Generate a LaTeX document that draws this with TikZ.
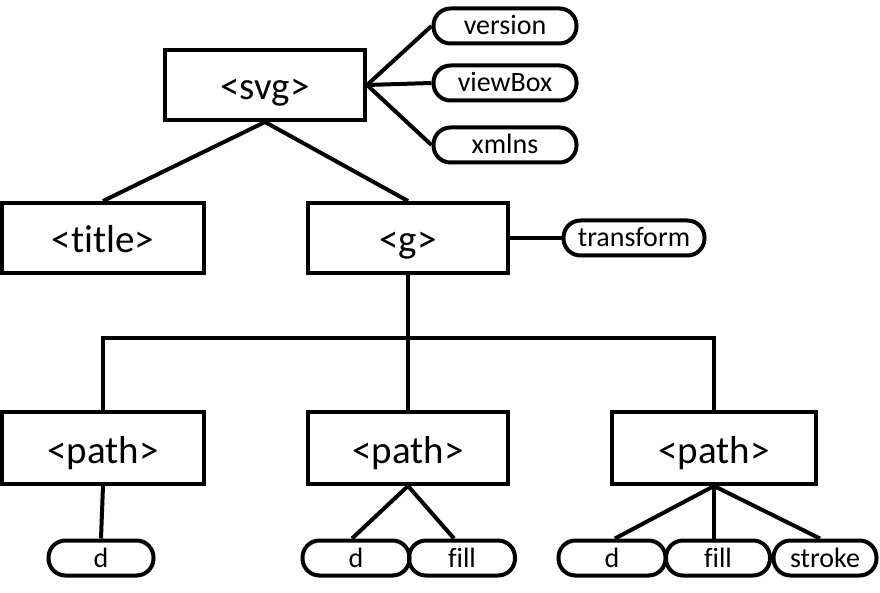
\documentclass[tikz,border=0pt]{standalone}
\usepackage{fontspec}
\setmainfont{Carlito}[Ligatures=NoCommon]
\begin{document}
\begin{tikzpicture}[x=1pt,y=-1pt,line width=4pt,
  elbox/.style={draw,rectangle,inner sep=0pt,minimum width=200pt,minimum height=70pt,text height=32pt,text depth=2pt,font=\fontsize{39}{42}\selectfont},
  attr/.style={draw,rectangle,rounded corners=17pt,inner sep=0pt,minimum height=35pt,text height=20pt,text depth=2pt,font=\fontsize{28}{31}\selectfont}]
\useasboundingbox (0,0) rectangle (880,593);
\node[elbox] (svg) at (265,85) {<svg>};
\node[attr,minimum width=143pt] (version) at (505,26) {version};
\node[attr,minimum width=143pt] (viewbox) at (505,83) {viewBox};
\node[attr,minimum width=143pt] (xmlns) at (505,145) {xmlns};
\node[elbox,minimum width=202pt] (title) at (103,238) {<title>};
\node[elbox] (g) at (408,238) {<g>};
\node[attr,minimum width=141pt] (transform) at (634,238) {transform};
\node[elbox,minimum width=202pt,minimum height=72pt] (p1) at (103,448) {<path>};
\node[elbox,minimum height=72pt] (p2) at (408,448) {<path>};
\node[elbox,minimum width=204pt,minimum height=72pt] (p3) at (714,448) {<path>};
\coordinate (bar) at (408,338);
\node[attr,minimum width=105pt] (d1) at (101,558) {d};
\node[attr,minimum width=107pt] (d2) at (356,558) {d};
\node[attr,minimum width=106pt] (f2) at (462,558) {fill};
\node[attr,minimum width=107pt] (d3) at (612,558) {d};
\node[attr,minimum width=104pt] (f3) at (718,558) {fill};
\node[attr,minimum width=103pt] (s3) at (825,558) {stroke};
\draw (svg.east) -- (version.west);
\draw (svg.east) -- (viewbox.west);
\draw (svg.east) -- (xmlns.west);
\draw (svg.south) -- (title.north);
\draw (svg.south) -- (g.north);
\draw (g.east) -- (transform.west);
\draw (g.south) -- (p2.north);
\draw (p1.north) |- (bar) -| (p3.north);
\draw (p1.south) -- (d1.north);
\draw (p2.south) -- ([xshift=-4pt]d2.north);
\draw (p2.south) -- ([xshift=-8pt]f2.north);
\draw (p3.south) -- ([xshift=3pt]d3.north);
\draw (p3.south) -- ([xshift=-4pt]f3.north);
\draw (p3.south) -- ([xshift=-5pt]s3.north);
\end{tikzpicture}
\end{document}
